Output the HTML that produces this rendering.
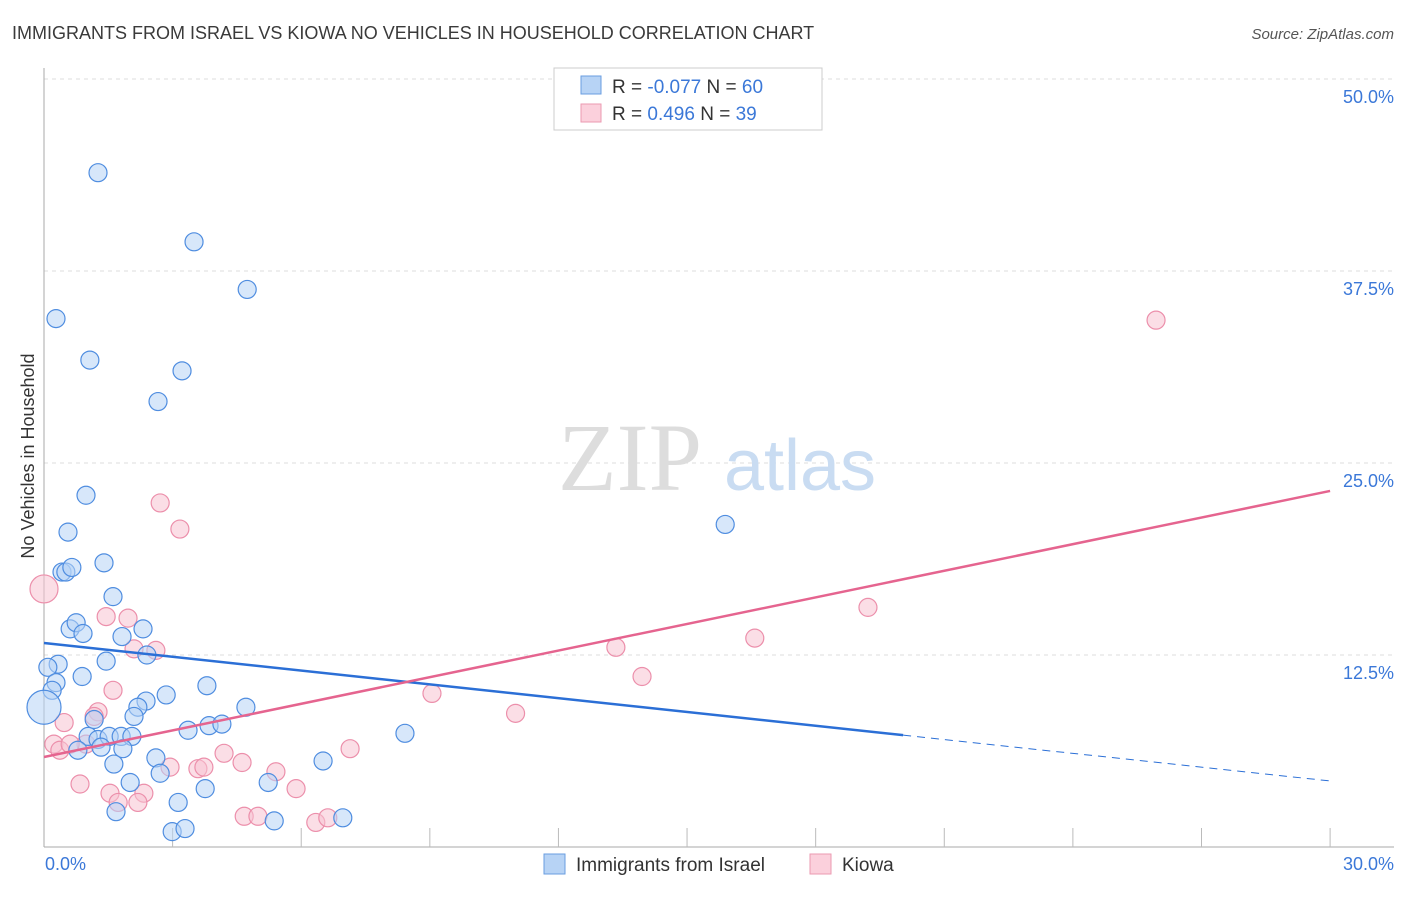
<!DOCTYPE html>
<html><head><meta charset="utf-8"><style>
body{margin:0;background:#fff;font-family:"Liberation Sans",sans-serif}
</style></head><body>
<svg width="1406" height="892" xmlns="http://www.w3.org/2000/svg">
<text x="12" y="39" font-size="18" fill="#3a3a3a">IMMIGRANTS FROM ISRAEL VS KIOWA NO VEHICLES IN HOUSEHOLD CORRELATION CHART</text>
<text x="1394" y="39" font-size="15" fill="#555" text-anchor="end" font-style="italic">Source: ZipAtlas.com</text>
<g id="grid"></g>
<text x="630" y="490" font-size="96" fill="#ddd" font-family="Liberation Serif,serif" text-anchor="middle">ZIP</text>
<text x="800" y="490" font-size="72" fill="#c9dcf2" text-anchor="middle">atlas</text>
<g id="pts"></g>
<g id="lines"></g>
<text transform="translate(34,456) rotate(-90)" font-size="18" fill="#333" text-anchor="middle">No Vehicles in Household</text>
<text x="45" y="870" font-size="18" fill="#3b78d8">0.0%</text>
<text x="1394" y="870" font-size="18" fill="#3b78d8" text-anchor="end">30.0%</text>
<g>
<rect x="554" y="68" width="268" height="62" fill="#fff" stroke="#ccc"/>
<rect x="581" y="76" width="20" height="18" fill="#b7d3f5" stroke="#6a9ee0"/>
<rect x="581" y="104" width="20" height="18" fill="#fbd0dc" stroke="#eb9ab1"/>
<text x="612" y="93" font-size="19" fill="#333">R = <tspan fill="#3b78d8">-0.077</tspan>   N = <tspan fill="#3b78d8">60</tspan></text>
<text x="612" y="120" font-size="19" fill="#333">R =  <tspan fill="#3b78d8"> 0.496</tspan>   N =  <tspan fill="#3b78d8">39</tspan></text>
</g>
<g>
<rect x="544" y="854" width="21" height="20" fill="#b7d3f5" stroke="#6a9ee0"/>
<text x="576" y="871" font-size="19" fill="#333">Immigrants from Israel</text>
<rect x="810" y="854" width="21" height="20" fill="#fbd0dc" stroke="#eb9ab1"/>
<text x="842" y="871" font-size="19" fill="#333">Kiowa</text>
</g>
</svg>
<script>
const yTicks=[12.5,25,37.5,50];
const yTickLabels=["12.5%","25.0%","37.5%","50.0%"];
const blueX=[1.26,3.5,4.74,0.28,1.07,3.22,2.66,0.98,0.56,1.4,0.42,0.51,0.65,1.61,0.61,0.75,0.91,2.31,1.82,2.4,1.45,0.33,0.09,0.89,0.28,0.19,0,3.8,2.85,2.38,4.71,2.19,2.1,1.17,3.36,3.85,4.15,8.42,1.03,1.26,1.52,1.8,2.05,1.33,1.84,0.79,2.61,6.51,1.63,2.71,2.01,5.23,3.76,1.68,3.13,5.37,6.97,2.99,3.29,15.89];
const blueY=[43.9,39.4,36.3,34.4,31.7,31,29,22.9,20.5,18.5,17.9,17.9,18.2,16.3,14.2,14.6,13.9,14.2,13.7,12.5,12.1,11.9,11.7,11.1,10.7,10.2,9.1,10.5,9.9,9.5,9.1,9.1,8.5,8.3,7.6,7.9,8,7.4,7.2,7,7.2,7.2,7.2,6.5,6.4,6.3,5.8,5.6,5.4,4.8,4.2,4.2,3.8,2.3,2.9,1.7,1.9,1,1.2,21];
const pinkX=[25.94,2.71,3.17,0,1.45,1.96,2.1,1.61,1.26,1.17,0.47,13.34,16.58,19.22,13.95,9.05,11,0.23,0.37,0.98,0.61,7.14,4.2,0.84,1.54,1.73,2.33,2.19,2.94,3.59,3.73,4.62,5.41,5.88,4.67,4.99,6.34,6.62,2.61];
const pinkY=[34.3,22.4,20.7,16.8,15,14.9,12.9,10.2,8.8,8.5,8.1,13,13.6,15.6,11.1,10,8.7,6.7,6.3,6.7,6.7,6.4,6.1,4.1,3.5,2.9,3.5,2.9,5.2,5.1,5.2,5.5,4.9,3.8,2,2,1.6,1.9,12.8];
const blueTrend=[13.28,4.30], blueSolidEnd=20.04;
const pinkTrend=[5.86,23.18];
const X=v=>44+v*42.87, Y=v=>847-v*15.36;
const NS="http://www.w3.org/2000/svg";
function mk(t,a,p){const e=document.createElementNS(NS,t);for(const k in a)e.setAttribute(k,a[k]);p.appendChild(e);return e;}
const g=document.getElementById('grid');
yTicks.forEach((t,i)=>{
 const l=mk('line',{x1:44,x2:1394,y1:Y(t),y2:Y(t),stroke:'#ddd','stroke-dasharray':'4,4'},g);
 
 
 const tx=mk('text',{x:1394,y:Y(t)+24,'font-size':18,fill:'#3b78d8','text-anchor':'end'},g);
 tx.textContent=yTickLabels[i];
 
 
});
const ax=mk('line',{x1:44,x2:44,y1:68,y2:847,stroke:'#aaa'},g);


const bx=mk('line',{x1:44,x2:1394,y1:847,y2:847,stroke:'#aaa'},g);


for(let i=1;i<=10;i++){const tk=mk('line',{x1:X(i*3),x2:X(i*3),y1:828,y2:847,stroke:'#bbb'},g);
 
 }
const p=document.getElementById('pts');
function pts(xs,ys,fill,stroke,name){xs.forEach((x,i)=>{
 const r=(x===0)?(name==='point-israel'?17:14):9;
 const c=mk('circle',{cx:X(x),cy:Y(ys[i]),r:r,fill:fill,'fill-opacity':0.55,stroke:stroke,'stroke-width':1.2},p);
 
 });}
pts(pinkX,pinkY,'#f8c3d2','#ec8fab','point-kiowa');
pts(blueX,blueY,'#b7d3f5','#4f8de0','point-israel');
const L=document.getElementById('lines');
const bl=(x)=>blueTrend[0]+(blueTrend[1]-blueTrend[0])*x/30;
let a=mk('line',{x1:X(0),y1:Y(bl(0)),x2:X(blueSolidEnd),y2:Y(bl(blueSolidEnd)),stroke:'#2b6fd6','stroke-width':2.5},L);


a=mk('line',{x1:X(blueSolidEnd),y1:Y(bl(blueSolidEnd)),x2:X(30),y2:Y(bl(30)),stroke:'#2b6fd6','stroke-width':1,'stroke-dasharray':'8,6'},L);


a=mk('line',{x1:X(0),y1:Y(pinkTrend[0]),x2:X(30),y2:Y(pinkTrend[1]),stroke:'#e5648f','stroke-width':2.5},L);


</script>
</body></html>
